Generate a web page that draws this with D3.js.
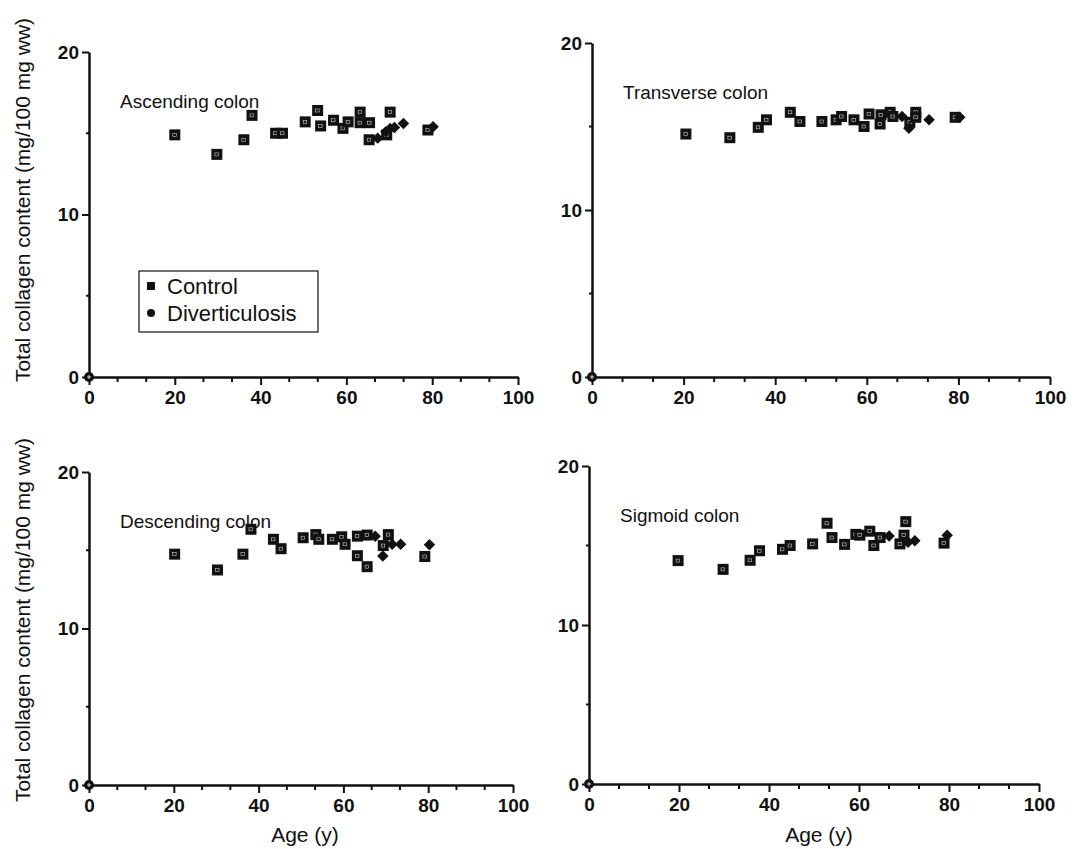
<!DOCTYPE html>
<html>
<head>
<meta charset="utf-8">
<script src="https://cdn.jsdelivr.net/npm/d3@7"></script>
<style>
  body { margin: 0; background: #fff; }
  svg { display: block; }
  text { font-family: "Liberation Sans", Arial, sans-serif; fill: #111; }
</style>
</head>
<body>
<svg id="chart" width="1080" height="849"></svg>
<script>
// Data: [age (y), total collagen (mg/100 mg ww)]
var ascendingControl = [[20, 14.9], [29.8, 13.7], [36.1, 14.6], [38, 16.1], [43.5, 15.0], [45.1, 15.0],
  [50.4, 15.7], [53.3, 16.4], [54, 15.45], [57, 15.8], [59.2, 15.3], [60.4, 15.7], [63.2, 16.3],
  [63.2, 15.65], [65.4, 15.65], [65.3, 14.6], [70.2, 16.3], [69.4, 14.9], [79, 15.2]];
var ascendingDiv = [[67.3, 14.7], [69.2, 15.1], [70.2, 15.3], [71.2, 15.35], [73.3, 15.6], [80.2, 15.4]];

var transverseControl = [[20.5, 14.55], [30.1, 14.33], [36.3, 14.95], [38.1, 15.4], [43.3, 15.85],
  [45.4, 15.3], [50.2, 15.3], [53.3, 15.4], [54.5, 15.6], [57.2, 15.4], [59.4, 15.0], [60.5, 15.75],
  [62.9, 15.15], [63.1, 15.7], [65.1, 15.85], [65.7, 15.6], [69.4, 15.25], [70.7, 15.85], [70.7, 15.55],
  [79.3, 15.55]];
var transverseDiv = [[67.7, 15.6], [69.2, 14.9], [73.6, 15.4], [80.3, 15.55]];

var descendingControl = [[20.2, 14.75], [30.3, 13.74], [36.3, 14.75], [38.2, 16.34], [43.5, 15.7],
  [45.3, 15.1], [50.5, 15.8], [53.5, 16.0], [54.2, 15.7], [57.4, 15.7], [59.6, 15.86], [60.4, 15.38],
  [63.3, 15.9], [63.3, 14.65], [65.6, 15.97], [65.6, 13.95], [70.6, 16.0], [69.4, 15.3], [79.2, 14.6]];
var descendingDiv = [[67.5, 15.9], [69.3, 14.63], [71.5, 15.38], [73.5, 15.38], [80.3, 15.35]];

var sigmoidControl = [[19.8, 14.05], [29.8, 13.5], [35.8, 14.07], [37.9, 14.67], [43, 14.76],
  [44.7, 15.0], [49.7, 15.1], [52.9, 16.4], [54, 15.5], [56.8, 15.07], [59.3, 15.7], [60.2, 15.65],
  [62.4, 15.9], [63.3, 15.0], [64.7, 15.5], [70, 15.65], [70.4, 16.5], [69.1, 15.1], [78.9, 15.15]];
var sigmoidDiv = [[66.7, 15.6], [70.9, 15.2], [72.4, 15.3], [79.6, 15.65]];

var xTicks = [0, 20, 40, 60, 80, 100];
var yTicks = [0, 10, 20];
var legendLabels = ["Control", "Diverticulosis"];

// Panel placement (pixel ranges of each small plot)
var panels = [
  {title: "Ascending colon", control: ascendingControl, div: ascendingDiv, x: [89, 518], y: [377, 52], legend: true},
  {title: "Transverse colon", control: transverseControl, div: transverseDiv, x: [592, 1050], y: [377, 43]},
  {title: "Descending colon", control: descendingControl, div: descendingDiv, x: [89, 513], y: [785, 472]},
  {title: "Sigmoid colon", control: sigmoidControl, div: sigmoidDiv, x: [589, 1039], y: [784, 466]}
];

var svg = d3.select("#chart");

// diamond = a square turned by 45 degrees
var diamondPath = d3.symbol().type(d3.symbolSquare).size(66)();

panels.forEach(function(p) {
  var x = d3.scaleLinear().domain([0, 100]).range(p.x);
  var y = d3.scaleLinear().domain([0, 20]).range(p.y);
  var g = svg.append("g");

  // x axis with two minor ticks between labelled ones
  var xAxis = d3.axisBottom(x).tickValues(xTicks).tickSize(8).tickSizeOuter(0).tickPadding(6);
  var gx = g.append("g").attr("transform", "translate(0," + p.y[0] + ")").call(xAxis);
  gx.select(".domain").attr("stroke-width", 2.5).attr("stroke", "#111");
  gx.selectAll(".tick line").attr("stroke-width", 2).attr("stroke", "#111");
  gx.selectAll(".tick text").attr("font-size", 19).attr("font-weight", "bold")
    .attr("font-family", "Liberation Sans, Arial, sans-serif");
  var xMinor = d3.range(0, 100, 20 / 3).filter(function(v) { return Math.abs(v % 20) > 0.01 && Math.abs(v % 20 - 20) > 0.01; });
  g.selectAll(".xminor").data(xMinor).enter().append("line")
    .attr("x1", function(d) { return x(d); }).attr("x2", function(d) { return x(d); })
    .attr("y1", p.y[0]).attr("y2", p.y[0] + 5)
    .attr("stroke", "#111").attr("stroke-width", 2);

  // y axis
  var yAxis = d3.axisLeft(y).tickValues(yTicks).tickSize(7).tickSizeOuter(0).tickPadding(3);
  var gy = g.append("g").attr("transform", "translate(" + p.x[0] + ",0)").call(yAxis);
  gy.select(".domain").attr("stroke-width", 2.5).attr("stroke", "#111");
  gy.selectAll(".tick line").attr("stroke-width", 2).attr("stroke", "#111");
  gy.selectAll(".tick text").attr("font-size", 19).attr("font-weight", "bold")
    .attr("font-family", "Liberation Sans, Arial, sans-serif");
  g.selectAll(".yminor").data([5, 15]).enter().append("line")
    .attr("x1", p.x[0]).attr("x2", p.x[0] - 3)
    .attr("y1", function(d) { return y(d); }).attr("y2", function(d) { return y(d); })
    .attr("stroke", "#111").attr("stroke-width", 2);

  // little marker sitting on the origin
  g.append("circle").attr("cx", x(0)).attr("cy", y(0)).attr("r", 5).attr("fill", "#111");
  g.append("path").attr("d", "M" + (x(0) - 2) + "," + y(0) + "h4M" + x(0) + "," + (y(0) - 2) + "v4")
    .attr("stroke", "#fff").attr("stroke-width", 0.8);

  // panel title
  g.append("text").attr("x", p.x[0] + 31).attr("y", p.y[1] + 56)
    .attr("font-size", 19).text(p.title);

  // control: black squares with a faint white speck inside
  var sq = g.selectAll(".ctrl").data(p.control).enter().append("g")
    .attr("transform", function(d) { return "translate(" + x(d[0]) + "," + y(d[1]) + ")"; });
  sq.append("rect").attr("x", -5.5).attr("y", -5.5).attr("width", 11).attr("height", 11).attr("fill", "#111");
  sq.append("rect").attr("x", -2).attr("y", -1.5).attr("width", 3.5).attr("height", 3)
    .attr("fill", "none").attr("stroke", "#fff").attr("stroke-width", 0.6).attr("opacity", 0.8);

  // diverticulosis: filled diamonds
  g.selectAll(".div").data(p.div).enter().append("path")
    .attr("d", diamondPath)
    .attr("transform", function(d) { return "translate(" + x(d[0]) + "," + y(d[1]) + ") rotate(45)"; })
    .attr("fill", "#111");

  if (p.legend) {
    var lg = g.append("g");
    lg.append("rect").attr("x", 139).attr("y", 271).attr("width", 179).attr("height", 61)
      .attr("fill", "#fff").attr("stroke", "#111").attr("stroke-width", 1.2);
    lg.append("rect").attr("x", 147).attr("y", 282).attr("width", 8).attr("height", 8).attr("fill", "#111");
    lg.append("circle").attr("cx", 151).attr("cy", 313).attr("r", 4).attr("fill", "#111");
    lg.selectAll(".lt").data(legendLabels).enter().append("text")
      .attr("x", 167).attr("y", function(d, k) { return 294 + k * 27; })
      .attr("font-size", 22).text(function(d) { return d; });
  }
});

// shared axis titles
var yTitle = "Total collagen content (mg/100 mg ww)";
[200, 620].forEach(function(cy) {
  svg.append("text").attr("transform", "translate(30," + cy + ") rotate(-90)")
    .attr("text-anchor", "middle").attr("font-size", 21).text(yTitle);
});
[305, 819].forEach(function(cx) {
  svg.append("text").attr("x", cx).attr("y", 842).attr("text-anchor", "middle")
    .attr("font-size", 21).text("Age (y)");
});
</script>
</body>
</html>
